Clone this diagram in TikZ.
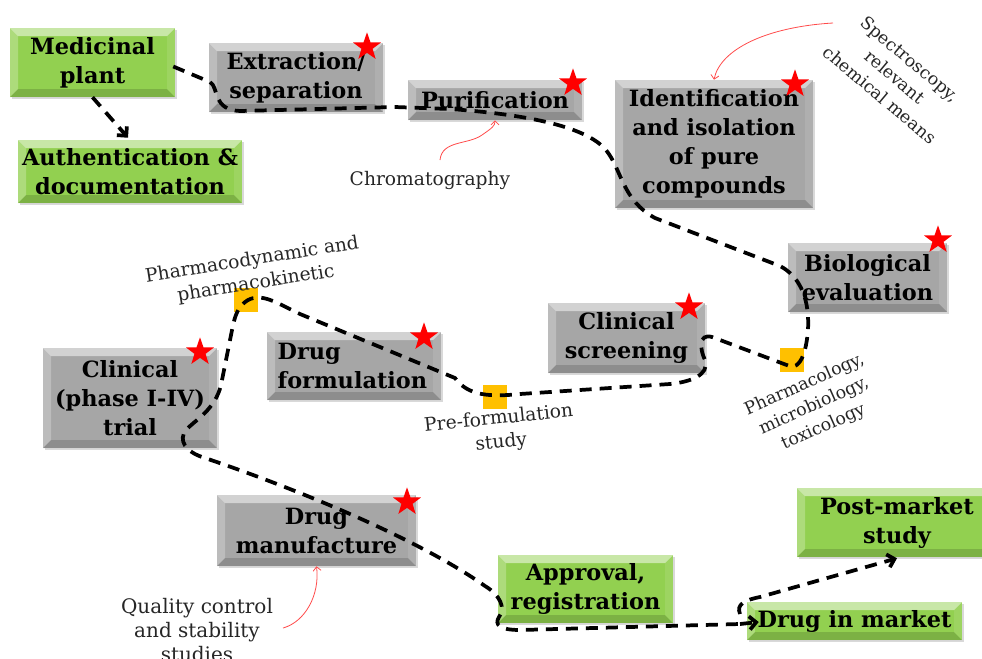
\documentclass[tikz,border=0pt]{standalone}
\usepackage{fontspec}
\setmainfont{DejaVu Serif}
\usetikzlibrary{shapes.geometric,shadows,arrows.meta,calc}
\definecolor{boxgray}{HTML}{A6A6A6}
\definecolor{boxgreen}{HTML}{92D050}
\definecolor{sqyellow}{HTML}{FFC000}
\definecolor{redarrow}{HTML}{FF4B4B}
\newlength\bevw
\setlength\bevw{6pt}
\tikzset{
  bevel/.style={path picture={
    \path (path picture bounding box.north west) coordinate (bnw)
          (path picture bounding box.north east) coordinate (bne)
          (path picture bounding box.south west) coordinate (bsw)
          (path picture bounding box.south east) coordinate (bse);
    \fill[white,opacity=.5] (bnw) -- (bne) -- ([xshift=-\bevw,yshift=-\bevw]bne) -- ([xshift=\bevw,yshift=-\bevw]bnw) -- cycle;
    \fill[white,opacity=.25] (bnw) -- ([xshift=\bevw,yshift=-\bevw]bnw) -- ([xshift=\bevw,yshift=\bevw]bsw) -- (bsw) -- cycle;
    \fill[white,opacity=.1] (bne) -- ([xshift=-\bevw,yshift=-\bevw]bne) -- ([xshift=-\bevw,yshift=\bevw]bse) -- (bse) -- cycle;
    \fill[black,opacity=.15] (bsw) -- ([xshift=\bevw,yshift=\bevw]bsw) -- ([xshift=-\bevw,yshift=\bevw]bse) -- (bse) -- cycle;
  }},
  basebox/.style={bevel, inner sep=2pt, align=center,
    font=\bfseries\fontsize{16.8}{21.75}\selectfont,
    drop shadow={shadow xshift=1.5pt,shadow yshift=-1.5pt,opacity=.3}},
  graybox/.style={basebox, fill=boxgray},
  greenbox/.style={basebox, fill=boxgreen},
  redstar/.style={star, star points=5, star point ratio=2.5, fill=red, inner sep=0pt, minimum size=22pt},
  ysq/.style={fill=sqyellow, inner sep=0pt, minimum size=18pt},
  lab/.style={font=\fontsize{13}{17.5}\selectfont, text=black!85, align=center, inner sep=0pt},
  labbig/.style={lab, font=\fontsize{14}{18}\selectfont},
  flow/.style={line width=2.8pt, dash pattern=on 9pt off 6pt},
  flowtip/.style={-{Straight Barb[length=5pt,width=10pt]}},
  redarr/.style={draw=redarrow, line width=0.6pt, -{Straight Barb[length=3pt,width=6pt]}}
}
\begin{document}
\begin{tikzpicture}[x=0.75pt,y=-0.75pt]
\useasboundingbox (0,0) rectangle (982,658);

% boxes
\node[greenbox, minimum width=123.75pt, minimum height=51.75pt] (mp) at (92.5,62.5) {Medicinal\\plant};
\node[greenbox, minimum width=168pt, minimum height=47.25pt] (auth) at (130,171.5) {Authentication \&\\documentation};
\node[graybox, minimum width=130.5pt, minimum height=51.75pt] (ext) at (296,77.5) {Extraction/\\separation};
\node[graybox, minimum width=130.5pt, minimum height=30pt] (pur) at (495,100) {Purification};
\node[graybox, minimum width=148.5pt, minimum height=96pt] (id) at (714,144) {Identification\\and isolation\\of pure\\compounds};
\node[graybox, minimum width=119.25pt, minimum height=51.75pt] (bio) at (867.5,277.5) {Biological\\evaluation};
\node[graybox, minimum width=117.75pt, minimum height=52.5pt] (cs) at (626.5,338) {Clinical\\screening};
\node[graybox, minimum width=130.5pt, minimum height=51pt, align=left, inner xsep=8pt, text width=114.5pt] (df) at (354,366) {Drug\\formulation};
\node[graybox, minimum width=130.5pt, minimum height=75pt] (ct) at (130,398) {Clinical\\(phase I-IV)\\trial};
\node[graybox, minimum width=149.25pt, minimum height=53.25pt] (dm) at (316.5,530.5) {Drug\\manufacture};
\node[greenbox, minimum width=131.25pt, minimum height=51pt] (ap) at (585.5,589) {Approval,\\registration};
\node[greenbox, minimum width=150pt, minimum height=51.75pt] (pm) at (897,522.5) {Post-market\\study};
\node[greenbox, minimum width=161.25pt, minimum height=28.5pt] (dim) at (854.5,621) {Drug in market};

% stars
\node[redstar] (s-ext) at (367,47) {};
\node[redstar] (s-pur) at (573,83) {};
\node[redstar] (s-id) at (795,84) {};
\node[redstar] (s-bio) at (938,240) {};
\node[redstar] (s-cs) at (689,307) {};
\node[redstar] (s-df) at (424,337) {};
\node[redstar] (s-ct) at (200,352) {};
\node[redstar] (s-dm) at (407,502) {};

% yellow squares
\node[ysq] (sq1) at (246,300) {};
\node[ysq] (sq2) at (495,397) {};
\node[ysq] (sq3) at (792,360) {};

% labels
\node[labbig] (chrom) at (430,180) {Chromatography};
\node[lab, rotate=-40] (spec) at (895,77) {Spectroscopy,\\relevant\\chemical means};
\node[labbig, rotate=9] (pdpk) at (254,272) {Pharmacodynamic and\\pharmacokinetic};
\node[labbig, rotate=6] (pref) at (500,431) {Pre-formulation\\study};
\node[lab, rotate=24] (pharm) at (814,406) {Pharmacology,\\microbiology,\\toxicology};
\node[lab, font=\fontsize{15}{18}\selectfont] (qc) at (197,630) {Quality control\\and stability\\studies};

% red arrows
\coordinate (c1) at (440,160);
\coordinate (c2) at (833,23);
\coordinate (c3) at (283,628);
\draw[redarr] (c1) .. controls (442,140) and (468,145) .. (482,135) .. controls (492,128) and (495,126) .. (pur.south);
\draw[redarr] (c2) .. controls (765,27) and (720,50) .. (id.north);
\draw[redarr] (c3) .. controls (305,622) and (320,595) .. (dm.south);

% flow
\draw[flow, flowtip] (mp.south) -- ($(auth.north)+(-2,-2)$);
\draw[flow] ($(mp.east)+(-2,4)$) -- (210,82)
  .. controls (219,87) and (212,110) .. (240,111)
  -- (395,107) -- (450,109)
  .. controls (520,114) and (585,125) .. (606,150)
  .. controls (622,170) and (622,200) .. (655,218)
  -- (780,266)
  .. controls (812,283) and (810,325) .. (806,345)
  .. controls (803,360) and (798,366) .. ($(sq3)+(0,7)$)
  -- (712,337)
  .. controls (698,333) and (700,350) .. (705,360)
  .. controls (710,375) and (690,382) .. (670,384)
  -- (520,394)
  .. controls (490,397) and (468,396) .. (455,378)
  -- (300,314)
  .. controls (275,302) and (262,293) .. (248,300)
  .. controls (238,306) and (235,315) .. (232,330)
  -- (221,385)
  .. controls (215,410) and (195,420) .. (186,430)
  .. controls (178,440) and (185,452) .. (205,458)
  .. controls (300,490) and (420,540) .. (485,586)
  .. controls (500,595) and (506,608) .. (499,617)
  .. controls (494,625) and (500,630) .. (520,630)
  -- (740,624);
\draw[flow, flowtip] (740,624) -- ($(dim.west)+(12,1)$);
\coordinate (br) at (740,614);
\draw[flow, flowtip] (br) .. controls (736,604) and (745,600) .. (760,597) -- ($(pm.south)+(0,1)$);
\end{tikzpicture}
\end{document}
